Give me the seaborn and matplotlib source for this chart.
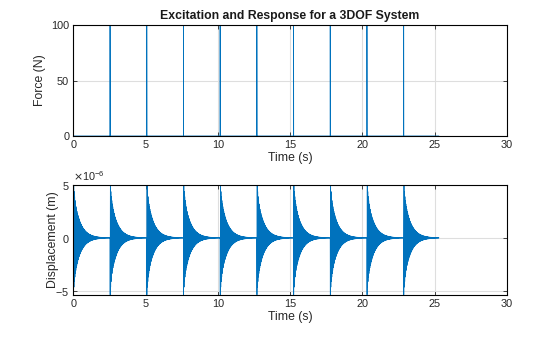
import numpy as np
import pandas as pd
import seaborn as sns
import matplotlib
matplotlib.use("Agg")
import matplotlib.pyplot as plt
from matplotlib.ticker import ScalarFormatter

# ---- data ----
impulse_times = [0.0, 2.54, 5.08, 7.62, 10.16, 12.70, 15.24, 17.78, 20.32, 22.86]  # s
impulse_force = 100.0          # N (height of each spike)
t_end = 25.3                   # s, end of the simulated record
dt = 0.0005                    # s, sample step

# modal content of the displacement response (peak ~5e-6 m, decays within ~2 s)
mode_amp = [4.4e-6, 1.2e-6]    # m
mode_decay = [2.3, 15.0]       # 1/s
mode_freq = [31.0, 155.0]      # Hz

xlim = (0, 30)
force_ylim = (0, 100)
disp_ylim = (-5.4e-6, 5.0e-6)
x_ticks = [0, 5, 10, 15, 20, 25, 30]
force_ticks = [0, 50, 100]
disp_ticks = [-5e-6, 0, 5e-6]

# ---- build the series ----
t = np.arange(0, t_end + dt / 2, dt)
force = np.zeros_like(t)
disp = np.zeros_like(t)
for ti in impulse_times:
    k = int(round(ti / dt))
    force[k] = impulse_force
    tau = t[k:] - t[k]
    for A, a, f in zip(mode_amp, mode_decay, mode_freq):
        disp[k:] += -A * np.exp(-a * tau) * np.sin(2 * np.pi * f * tau)

df = pd.DataFrame({"Time (s)": t, "Force (N)": force, "Displacement (m)": disp})

# ---- style ----
sns.set_theme(style="white")
plt.rcParams["font.family"] = ["Liberation Sans", "DejaVu Sans"]
plt.rcParams["axes.unicode_minus"] = False

line_color = "#0072BD"
grid_color = "#DEDEDE"

fig = plt.figure(figsize=(5.6, 3.37), dpi=100)
ax1 = fig.add_axes([0.131, 0.5964, 0.774, 0.3294])
ax2 = fig.add_axes([0.131, 0.1246, 0.774, 0.3264])

sns.lineplot(data=df, x="Time (s)", y="Force (N)", ax=ax1, color=line_color,
             linewidth=0.6, estimator=None, sort=False, errorbar=None)
sns.lineplot(data=df, x="Time (s)", y="Displacement (m)", ax=ax2, color=line_color,
             linewidth=0.6, estimator=None, sort=False, errorbar=None)

for ax, yl, yt in [(ax1, force_ylim, force_ticks), (ax2, disp_ylim, disp_ticks)]:
    ax.set_xlim(*xlim)
    ax.set_ylim(*yl)
    ax.set_xticks(x_ticks)
    ax.set_yticks(yt)
    ax.grid(True, color=grid_color, linewidth=0.8)
    ax.set_axisbelow(True)
    for s in ax.spines.values():
        s.set_color("black")
        s.set_linewidth(0.8)
        s.set_visible(True)
    ax.tick_params(direction="in", length=3, width=0.6, labelsize=7.8,
                   top=True, right=True, bottom=True, left=True,
                   colors="#262626", labelcolor="#262626", pad=3)
    ax.xaxis.label.set_size(8.8)
    ax.yaxis.label.set_size(8.8)
    ax.xaxis.label.set_color("#262626")
    ax.yaxis.label.set_color("#262626")
    ax.set_xlabel("Time (s)", labelpad=1)

ax1.set_ylabel("Force (N)", labelpad=4)
ax2.set_ylabel("Displacement (m)", labelpad=-2.5)

fmt = ScalarFormatter(useMathText=True)
fmt.set_powerlimits((0, 0))
ax2.yaxis.set_major_formatter(fmt)
ax2.yaxis.get_offset_text().set_size(7.8)
ax2.yaxis.get_offset_text().set_color("#262626")

ax1.set_title("Excitation and Response for a 3DOF System", fontsize=8.8,
              fontweight="bold", color="#1a1a1a", pad=4)

fig.savefig("out.png", dpi=100, facecolor="white")
